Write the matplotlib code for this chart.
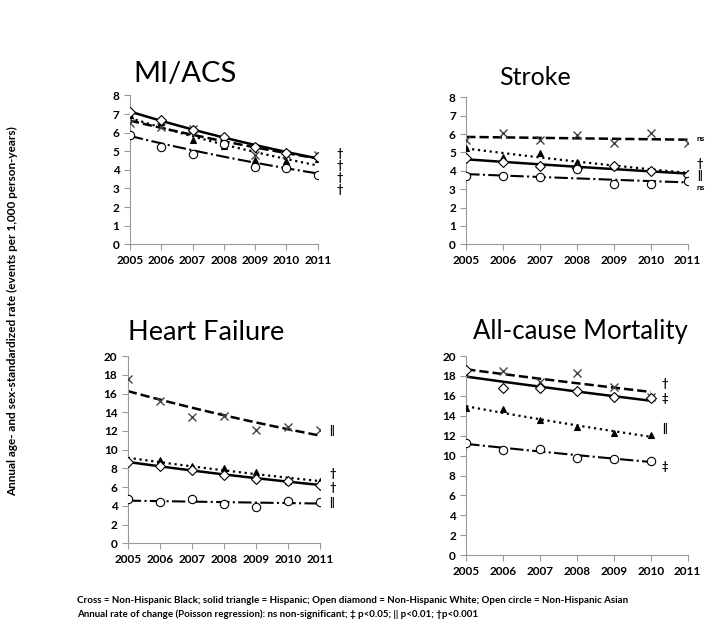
import matplotlib
matplotlib.use("Agg")
import matplotlib.pyplot as plt
import numpy as np

plt.rcParams['font.family'] = ['Lato', 'DejaVu Sans']

years = [2005, 2006, 2007, 2008, 2009, 2010, 2011]

# MI/ACS
mi_black = [6.54, 6.30, 6.20, 5.60, 4.80, 4.85, 4.80]
mi_hisp = [6.93, 6.60, 5.60, 5.30, 4.55, 4.50, 4.60]
mi_white = [7.13, 6.70, 6.15, 5.78, 5.25, 4.90, 4.70]
mi_asian = [5.85, 5.25, 4.85, 5.40, 4.15, 4.10, 3.75]

# Stroke
st_black = [5.68, 6.04, 5.68, 5.96, 5.49, 6.08, 5.49]
st_hisp = [5.25, 4.76, 4.96, 4.47, 4.33, 4.04, 3.88]
st_white = [4.68, 4.48, 4.24, 4.15, 4.28, 4.00, 3.78]
st_asian = [3.72, 3.72, 3.64, 4.08, 3.30, 3.30, 3.42]

# Heart failure
hf_black = [17.55, 15.20, 13.46, 13.63, 12.14, 12.40, 12.15]
hf_hisp = [8.75, 8.85, 8.30, 8.06, 7.60, 6.70, 6.60]
hf_white = [8.68, 8.25, 7.80, 7.30, 6.90, 6.68, 6.20]
hf_asian = [4.72, 4.40, 4.68, 4.15, 3.92, 4.56, 4.38]

# All-cause mortality (2005-2010)
mo_years = [2005, 2006, 2007, 2008, 2009, 2010]
mo_black = [18.15, 18.55, 17.40, 18.30, 16.90, 15.85]
mo_hisp = [14.80, 14.65, 13.60, 12.90, 12.30, 12.05]
mo_white = [18.60, 16.75, 16.80, 16.50, 15.85, 15.75]
mo_asian = [11.30, 10.60, 10.65, 9.80, 9.70, 9.45]

# title, axes rect, ylim, ystep, x values, series, notes, note offset, title size, title x
panels = [
    ("MI/ACS", [0.182, 0.611, 0.263, 0.237], (0, 8), 1, years,
     [mi_black, mi_hisp, mi_white, mi_asian],
     [("†", 4.9), ("†", 4.25), ("†", 3.6), ("†", 2.95)], 0.6, 21, 0.02),
    ("Stroke", [0.653, 0.611, 0.31, 0.234], (0, 8), 1, years,
     [st_black, st_hisp, st_white, st_asian],
     [("ns", 5.75), ("†", 4.4), ("||", 3.75), ("ns", 3.1)], 0.25, 18, 0.15),
    ("Heart Failure", [0.179, 0.135, 0.269, 0.298], (0, 20), 2, years,
     [hf_black, hf_hisp, hf_white, hf_asian],
     [("||", 12.0), ("†", 7.4), ("†", 6.0), ("||", 4.3)], 0.3, 19.5, 0.0),
    ("All-cause Mortality", [0.653, 0.116, 0.31, 0.317], (0, 20), 2, mo_years,
     [mo_black, mo_hisp, mo_white, mo_asian],
     [("†", 17.2), ("‡", 15.7), ("||", 12.7), ("‡", 8.9)], 0.3, 18.5, 0.03),
]

# black, hispanic, white, asian
styles = [
    dict(marker='x', ls='--', lw=1.8, mfc='none', mec='#444444', ms=6, mew=1.0),
    dict(marker='^', ls=':', lw=1.6, mfc='black', mec='black', ms=5, mew=0.8),
    dict(marker='D', ls='-', lw=1.8, mfc='white', mec='black', ms=5, mew=0.8),
    dict(marker='o', ls='-.', lw=1.5, mfc='white', mec='black', ms=6, mew=0.8),
]

fig = plt.figure(figsize=(7.14, 6.28), dpi=100)

for title, pos, ylim, ystep, xs, series, notes, off, tsize, tx in panels:
    ax = fig.add_axes(pos)
    xs = np.array(xs)
    xfit = np.linspace(xs[0], xs[-1], 50)
    for vals, st in zip(series, styles):
        vals = np.array(vals)
        b, a = np.polyfit(xs - 2005, np.log(vals), 1)
        ax.plot(xfit, np.exp(a + b * (xfit - 2005)), color='black',
                ls=st['ls'], lw=st['lw'], zorder=2)
        ax.plot(xs, vals, ls='none', marker=st['marker'], mfc=st['mfc'],
                mec=st['mec'], ms=st['ms'], mew=st['mew'], zorder=3)
    for txt, yv in notes:
        fs = 6 if txt == 'ns' else 8
        ax.text(xs[-1] + off, yv, txt, fontsize=fs, fontweight='bold',
                va='center', ha='left', clip_on=False)
    ax.set_xlim(2005, 2011)
    ax.set_ylim(*ylim)
    ax.set_xticks(years)
    ax.set_yticks(np.arange(ylim[0], ylim[1] + 0.1, ystep))
    for s in ['top', 'right']:
        ax.spines[s].set_visible(False)
    for s in ['left', 'bottom']:
        ax.spines[s].set_color('#999999')
        ax.spines[s].set_linewidth(0.8)
    ax.tick_params(colors='#999999', labelcolor='black', labelsize=8.5,
                   length=4, width=0.8)
    for lab in ax.get_xticklabels() + ax.get_yticklabels():
        lab.set_fontweight('bold')
    ax.text(tx, 1.06, title, transform=ax.transAxes, fontsize=tsize,
            ha='left', va='bottom')

fig.text(0.018, 0.505, "Annual age- and sex-standardized rate (events per 1,000 person-years)",
         rotation=90, ha='center', va='center', fontsize=8.5, fontweight='bold')

fig.text(0.108, 0.040, "Cross = Non-Hispanic Black; solid triangle = Hispanic; Open diamond = "
         "Non-Hispanic White; Open circle = Non-Hispanic Asian", fontsize=7, fontweight='bold')
fig.text(0.108, 0.017, "Annual rate of change (Poisson regression): ns non-significant; "
         "‡ p<0.05; || p<0.01; †p<0.001", fontsize=7, fontweight='bold')

fig.savefig("out.png", dpi=100)
